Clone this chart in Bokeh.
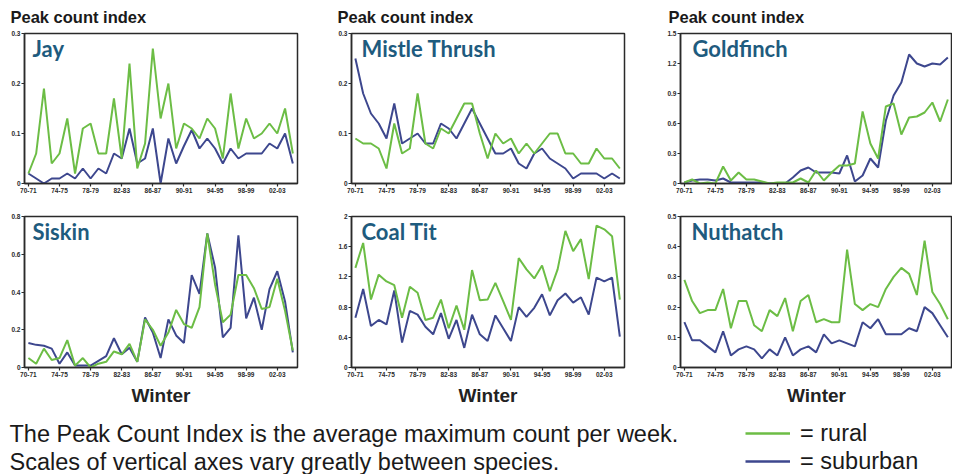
from bokeh.plotting import figure
from bokeh.layouts import row, column
from bokeh.models import Range1d, FixedTicker, Label, Legend, LegendItem, ColumnDataSource
from bokeh.embed import file_html
from bokeh.resources import INLINE

# ---------------- data ----------------
WINTER_IDX = list(range(35))  # winters 70-71 ... 04-05
XTICKS = [0, 4, 8, 12, 16, 20, 24, 28, 32]
XTICK_LABELS = ["70-71", "74-75", "78-79", "82-83", "86-87", "90-91", "94-95", "98-99", "02-03"]

jay_rural = [0.02, 0.06, 0.19, 0.04, 0.06, 0.13, 0.02, 0.11, 0.12, 0.06, 0.06, 0.17, 0.05, 0.24, 0.03, 0.08,
             0.27, 0.13, 0.20, 0.07, 0.12, 0.11, 0.09, 0.13, 0.11, 0.05, 0.18, 0.07, 0.13, 0.09, 0.10, 0.12,
             0.10, 0.15, 0.06]
jay_suburban = [0.02, 0.01, 0.0, 0.01, 0.01, 0.02, 0.01, 0.03, 0.01, 0.03, 0.02, 0.06, 0.05, 0.11, 0.04, 0.05,
                0.11, 0.0, 0.09, 0.04, 0.075, 0.107, 0.07, 0.09, 0.07, 0.04, 0.07, 0.05, 0.06, 0.06, 0.06, 0.08,
                0.07, 0.10, 0.04]

mistle_rural = [0.09, 0.08, 0.08, 0.07, 0.03, 0.12, 0.06, 0.07, 0.18, 0.08, 0.07, 0.11, 0.10, 0.13, 0.16, 0.16,
                0.10, 0.05, 0.10, 0.08, 0.09, 0.06, 0.08, 0.06, 0.08, 0.10, 0.10, 0.06, 0.06, 0.04, 0.04, 0.07,
                0.05, 0.05, 0.03]
mistle_suburban = [0.25, 0.18, 0.14, 0.12, 0.09, 0.16, 0.08, 0.09, 0.10, 0.08, 0.08, 0.12, 0.11, 0.09, 0.12, 0.15,
                   0.12, 0.09, 0.06, 0.06, 0.07, 0.04, 0.03, 0.06, 0.07, 0.05, 0.04, 0.03, 0.01, 0.02, 0.02, 0.02,
                   0.01, 0.02, 0.01]

goldfinch_rural = [0.01, 0.04, 0.0, 0.01, 0.0, 0.17, 0.03, 0.11, 0.04, 0.04, 0.02, 0.0, 0.01, 0.01, 0.01, 0.05,
                   0.01, 0.13, 0.03, 0.11, 0.18, 0.18, 0.20, 0.72, 0.40, 0.25, 0.77, 0.80, 0.49, 0.66, 0.67, 0.71,
                   0.81, 0.62, 0.84]
goldfinch_suburban = [0.01, 0.03, 0.04, 0.04, 0.03, 0.05, 0.01, 0.01, 0.01, 0.01, 0.01, 0.0, 0.0, 0.0, 0.06, 0.13,
                      0.16, 0.11, 0.11, 0.11, 0.10, 0.28, 0.02, 0.08, 0.25, 0.16, 0.63, 0.88, 1.01, 1.29, 1.20, 1.17,
                      1.20, 1.19, 1.26]

siskin_rural = [0.05, 0.02, 0.10, 0.04, 0.05, 0.145, 0.01, 0.05, 0.0, 0.02, 0.03, 0.085, 0.07, 0.125, 0.03, 0.255,
                0.20, 0.115, 0.185, 0.305, 0.23, 0.21, 0.32, 0.71, 0.44, 0.24, 0.28, 0.49, 0.49, 0.42, 0.31, 0.32,
                0.47, 0.30, 0.09]
siskin_suburban = [0.13, 0.12, 0.115, 0.10, 0.02, 0.08, 0.01, 0.01, 0.01, 0.035, 0.06, 0.155, 0.07, 0.105, 0.03,
                   0.265, 0.185, 0.05, 0.255, 0.17, 0.13, 0.49, 0.39, 0.71, 0.53, 0.16, 0.21, 0.70, 0.26, 0.37, 0.20,
                   0.415, 0.51, 0.35, 0.08]

coaltit_rural = [1.32, 1.65, 0.90, 1.23, 1.14, 1.09, 0.66, 1.07, 0.99, 0.63, 0.66, 0.90, 0.52, 0.82, 0.50, 1.29,
                 0.89, 0.90, 1.12, 0.88, 0.63, 1.45, 1.30, 1.18, 1.35, 1.01, 1.30, 1.81, 1.54, 1.70, 1.17, 1.88,
                 1.83, 1.74, 0.90]
coaltit_suburban = [0.66, 1.04, 0.55, 0.63, 0.57, 1.02, 0.33, 0.75, 0.70, 0.54, 0.44, 0.72, 0.38, 0.63, 0.26, 0.70,
                    0.44, 0.35, 0.69, 0.52, 0.35, 0.80, 0.67, 0.79, 0.97, 0.69, 0.89, 0.98, 0.86, 0.93, 0.70, 1.19,
                    1.14, 1.19, 0.41]

nuthatch_rural = [0.29, 0.22, 0.18, 0.19, 0.19, 0.26, 0.13, 0.22, 0.22, 0.14, 0.12, 0.19, 0.17, 0.23, 0.12, 0.22,
                  0.24, 0.15, 0.16, 0.15, 0.15, 0.39, 0.21, 0.19, 0.21, 0.20, 0.26, 0.30, 0.33, 0.31, 0.24, 0.42,
                  0.25, 0.21, 0.16]
nuthatch_suburban = [0.15, 0.09, 0.09, 0.07, 0.05, 0.12, 0.04, 0.06, 0.07, 0.06, 0.03, 0.06, 0.04, 0.10, 0.04, 0.06,
                     0.07, 0.05, 0.11, 0.08, 0.09, 0.08, 0.07, 0.15, 0.13, 0.16, 0.11, 0.11, 0.11, 0.13, 0.12, 0.20,
                     0.18, 0.14, 0.10]

Y_TICKS_03 = [0, 0.1, 0.2, 0.3]
Y_LABELS_03 = ["0", "0.1", "0.2", "0.3"]
Y_TICKS_15 = [0, 0.3, 0.6, 0.9, 1.2, 1.5]
Y_LABELS_15 = ["0", "0.3", "0.6", "0.9", "1.2", "1.5"]
Y_TICKS_08 = [0, 0.2, 0.4, 0.6, 0.8]
Y_LABELS_08 = ["0", "0.2", "0.4", "0.6", "0.8"]
Y_TICKS_2 = [0, 0.4, 0.8, 1.2, 1.6, 2]
Y_LABELS_2 = ["0", "0.4", "0.8", "1.2", "1.6", "2"]
Y_TICKS_05 = [0, 0.1, 0.2, 0.3, 0.4, 0.5]
Y_LABELS_05 = ["0", "0.1", "0.2", "0.3", "0.4", "0.5"]

LEGEND_LABELS = ["= rural", "= suburban"]
NOTE_LINES = ["The Peak Count Index is the average maximum count per week.",
              "Scales of vertical axes vary greatly between species."]
Y_TITLE = "Peak count index"

# ---------------- style ----------------
GREEN = "#6cbd45"
BLUE = "#3d478e"
NAME_COLOR = "#1e5b7e"
AXIS_COLOR = "#2a2a2a"
TEXT_FONT = "Liberation Sans"


def make_panel(name, rural, suburban, ymax, yticks, ylabels, width, height,
               bl, br, bt, bb, name_dx, winter=False):
    p = figure(width=width, height=height, x_range=Range1d(-0.5, 34.6), y_range=Range1d(0, ymax),
               output_backend="svg", toolbar_location=None,
               min_border_left=bl, min_border_right=br, min_border_top=bt, min_border_bottom=bb)
    p.grid.visible = False
    p.outline_line_color = AXIS_COLOR
    p.outline_line_width = 1.5
    p.outline_line_alpha = 1.0
    src = ColumnDataSource(dict(x=WINTER_IDX, rural=rural, suburban=suburban))
    p.line("x", "suburban", source=src, line_color=BLUE, line_width=2)
    p.line("x", "rural", source=src, line_color=GREEN, line_width=2)

    for ax in (p.xaxis[0], p.yaxis[0]):
        ax.axis_line_color = AXIS_COLOR
        ax.axis_line_width = 1.5
        ax.major_tick_line_color = AXIS_COLOR
        ax.major_tick_line_width = 1.2
        ax.major_tick_out = 3
        ax.major_tick_in = 0
        ax.minor_tick_line_color = None
        ax.major_label_text_font = TEXT_FONT
        ax.major_label_text_font_size = "6.5px"
        ax.major_label_text_font_style = "bold"
        ax.major_label_text_color = AXIS_COLOR
        ax.major_label_standoff = 1
    p.xaxis.ticker = FixedTicker(ticks=XTICKS)
    p.xaxis.major_label_overrides = {t: l for t, l in zip(XTICKS, XTICK_LABELS)}
    p.yaxis.ticker = FixedTicker(ticks=yticks)
    p.yaxis.major_label_overrides = {t: l for t, l in zip(yticks, ylabels)}

    if winter:
        p.xaxis.axis_label = "Winter"
        p.xaxis.axis_label_text_font = TEXT_FONT
        p.xaxis.axis_label_text_font_size = "19px"
        p.xaxis.axis_label_text_font_style = "bold"
        p.xaxis.axis_label_text_color = "#222222"
        p.xaxis.axis_label_standoff = 5

    p.add_layout(Label(x=-0.5, y=ymax, x_offset=name_dx, y_offset=-1, text=name,
                       text_baseline="top", text_align="left", text_font="Lato",
                       text_font_style="bold", text_font_size="22px", text_color=NAME_COLOR))
    return p


COL_W = [330, 330, 292]
COL_BL = [24, 21, 20]
COL_BR = [33, 36, 0]
TITLE_DX = [-14, -14, -12]
STRIP_H, TOP_H, BOT_H, FOOT_H = 25, 175, 208, 66
TOTAL_W = sum(COL_W)

jay = make_panel("Jay", jay_rural, jay_suburban, 0.3, Y_TICKS_03, Y_LABELS_03,
                 COL_W[0], TOP_H, COL_BL[0], COL_BR[0], 8, 17, 8)
mistle = make_panel("Mistle Thrush", mistle_rural, mistle_suburban, 0.3, Y_TICKS_03, Y_LABELS_03,
                    COL_W[1], TOP_H, COL_BL[1], COL_BR[1], 8, 17, 10)
goldfinch = make_panel("Goldfinch", goldfinch_rural, goldfinch_suburban, 1.5, Y_TICKS_15, Y_LABELS_15,
                       COL_W[2], TOP_H, COL_BL[2], COL_BR[2], 8, 17, 12)
siskin = make_panel("Siskin", siskin_rural, siskin_suburban, 0.8, Y_TICKS_08, Y_LABELS_08,
                    COL_W[0], BOT_H, COL_BL[0], COL_BR[0], 16, 41, 8, winter=True)
coaltit = make_panel("Coal Tit", coaltit_rural, coaltit_suburban, 2, Y_TICKS_2, Y_LABELS_2,
                     COL_W[1], BOT_H, COL_BL[1], COL_BR[1], 16, 41, 10, winter=True)
nuthatch = make_panel("Nuthatch", nuthatch_rural, nuthatch_suburban, 0.5, Y_TICKS_05, Y_LABELS_05,
                      COL_W[2], BOT_H, COL_BL[2], COL_BR[2], 16, 41, 11, winter=True)


def blank_strip(height):
    f = figure(width=TOTAL_W, height=height, x_range=Range1d(0, TOTAL_W), y_range=Range1d(0, height),
               output_backend="svg", toolbar_location=None, x_axis_type=None, y_axis_type=None,
               min_border_left=0, min_border_right=0, min_border_top=0, min_border_bottom=0)
    f.outline_line_color = None
    f.grid.visible = False
    return f


# ---------------- title strip (y-axis captions above top row) ----------------
strip = blank_strip(STRIP_H)
col_left = 0
for w, bl, dx in zip(COL_W, COL_BL, TITLE_DX):
    strip.add_layout(Label(x=col_left + bl + dx, y=STRIP_H - 16, text=Y_TITLE, text_baseline="middle",
                           text_align="left", text_font=TEXT_FONT, text_font_style="bold",
                           text_font_size="16.5px", text_color="#1a1a1a"))
    col_left += w

# ---------------- footer ----------------
footer = blank_strip(FOOT_H)
for txt, ypos in zip(NOTE_LINES, [FOOT_H - 25, FOOT_H - 53]):
    footer.add_layout(Label(x=9, y=ypos, text=txt, text_baseline="middle", text_font=TEXT_FONT,
                            text_font_size="23.5px", text_color="#1a1a1a"))
nan = float("nan")
r_rural = footer.line(x=[nan, nan], y=[nan, nan], line_color=GREEN, line_width=2.5)
r_sub = footer.line(x=[nan, nan], y=[nan, nan], line_color=BLUE, line_width=2.5)
legend = Legend(items=[LegendItem(label=LEGEND_LABELS[0], renderers=[r_rural]),
                       LegendItem(label=LEGEND_LABELS[1], renderers=[r_sub])],
                location=(745, -0.5), orientation="vertical",
                glyph_width=45, glyph_height=22, label_height=22, label_standoff=10, spacing=1,
                padding=0, margin=0, border_line_alpha=0, background_fill_alpha=0,
                label_text_font=TEXT_FONT, label_text_font_size="23.5px", label_text_color="#1a1a1a")
footer.add_layout(legend)

layout = column(strip, row(jay, mistle, goldfinch), row(siskin, coaltit, nuthatch), footer)

open("out.html", "w").write(file_html(layout, INLINE))
